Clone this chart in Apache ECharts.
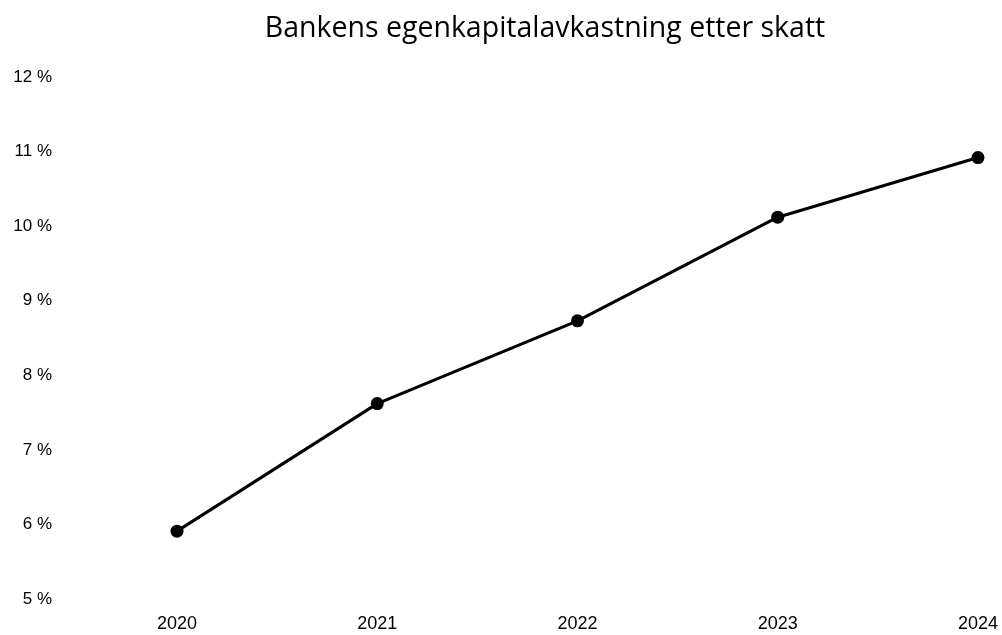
<!DOCTYPE html>
<html>
<head>
<meta charset="utf-8">
<script src="https://cdn.jsdelivr.net/npm/echarts@6/dist/echarts.min.js"></script>
<style>html,body{margin:0;padding:0;background:#fff}#c{width:1002px;height:635px}</style>
</head>
<body>
<div id="c"></div>
<script>
const years = ['2020', '2021', '2022', '2023', '2024'];
const roe = [5.91, 7.62, 8.73, 10.12, 10.92];
const yTicks = [5, 6, 7, 8, 9, 10, 11, 12];

const chart = echarts.init(document.getElementById('c'));
chart.setOption({
  animation: false,
  backgroundColor: '#fff',
  title: {
    text: 'Bankens egenkapitalavkastning etter skatt',
    left: 540, top: 9,
    textAlign: 'center',
    textStyle: { fontFamily: 'Open Sans', fontWeight: 'normal', fontSize: 28.5, color: '#000' }
  },
  grid: { left: 177, right: 24, top: 77, bottom: 36 },
  xAxis: {
    type: 'category', data: years, boundaryGap: false,
    axisLine: { show: false }, axisTick: { show: false }, splitLine: { show: false },
    axisLabel: { color: '#000', fontFamily: 'Liberation Sans', fontSize: 18, margin: 16 }
  },
  yAxis: {
    type: 'value', min: yTicks[0], max: yTicks[yTicks.length - 1], interval: 1,
    axisLine: { show: false }, axisTick: { show: false }, splitLine: { show: false },
    axisLabel: { color: '#000', fontFamily: 'Liberation Sans', fontSize: 17, margin: 125,
      formatter: v => v + ' %' }
  },
  series: [{
    type: 'line', data: roe,
    symbol: 'circle', symbolSize: 13,
    lineStyle: { color: '#000', width: 3 },
    itemStyle: { color: '#000' }
  }]
});
</script>
</body>
</html>
